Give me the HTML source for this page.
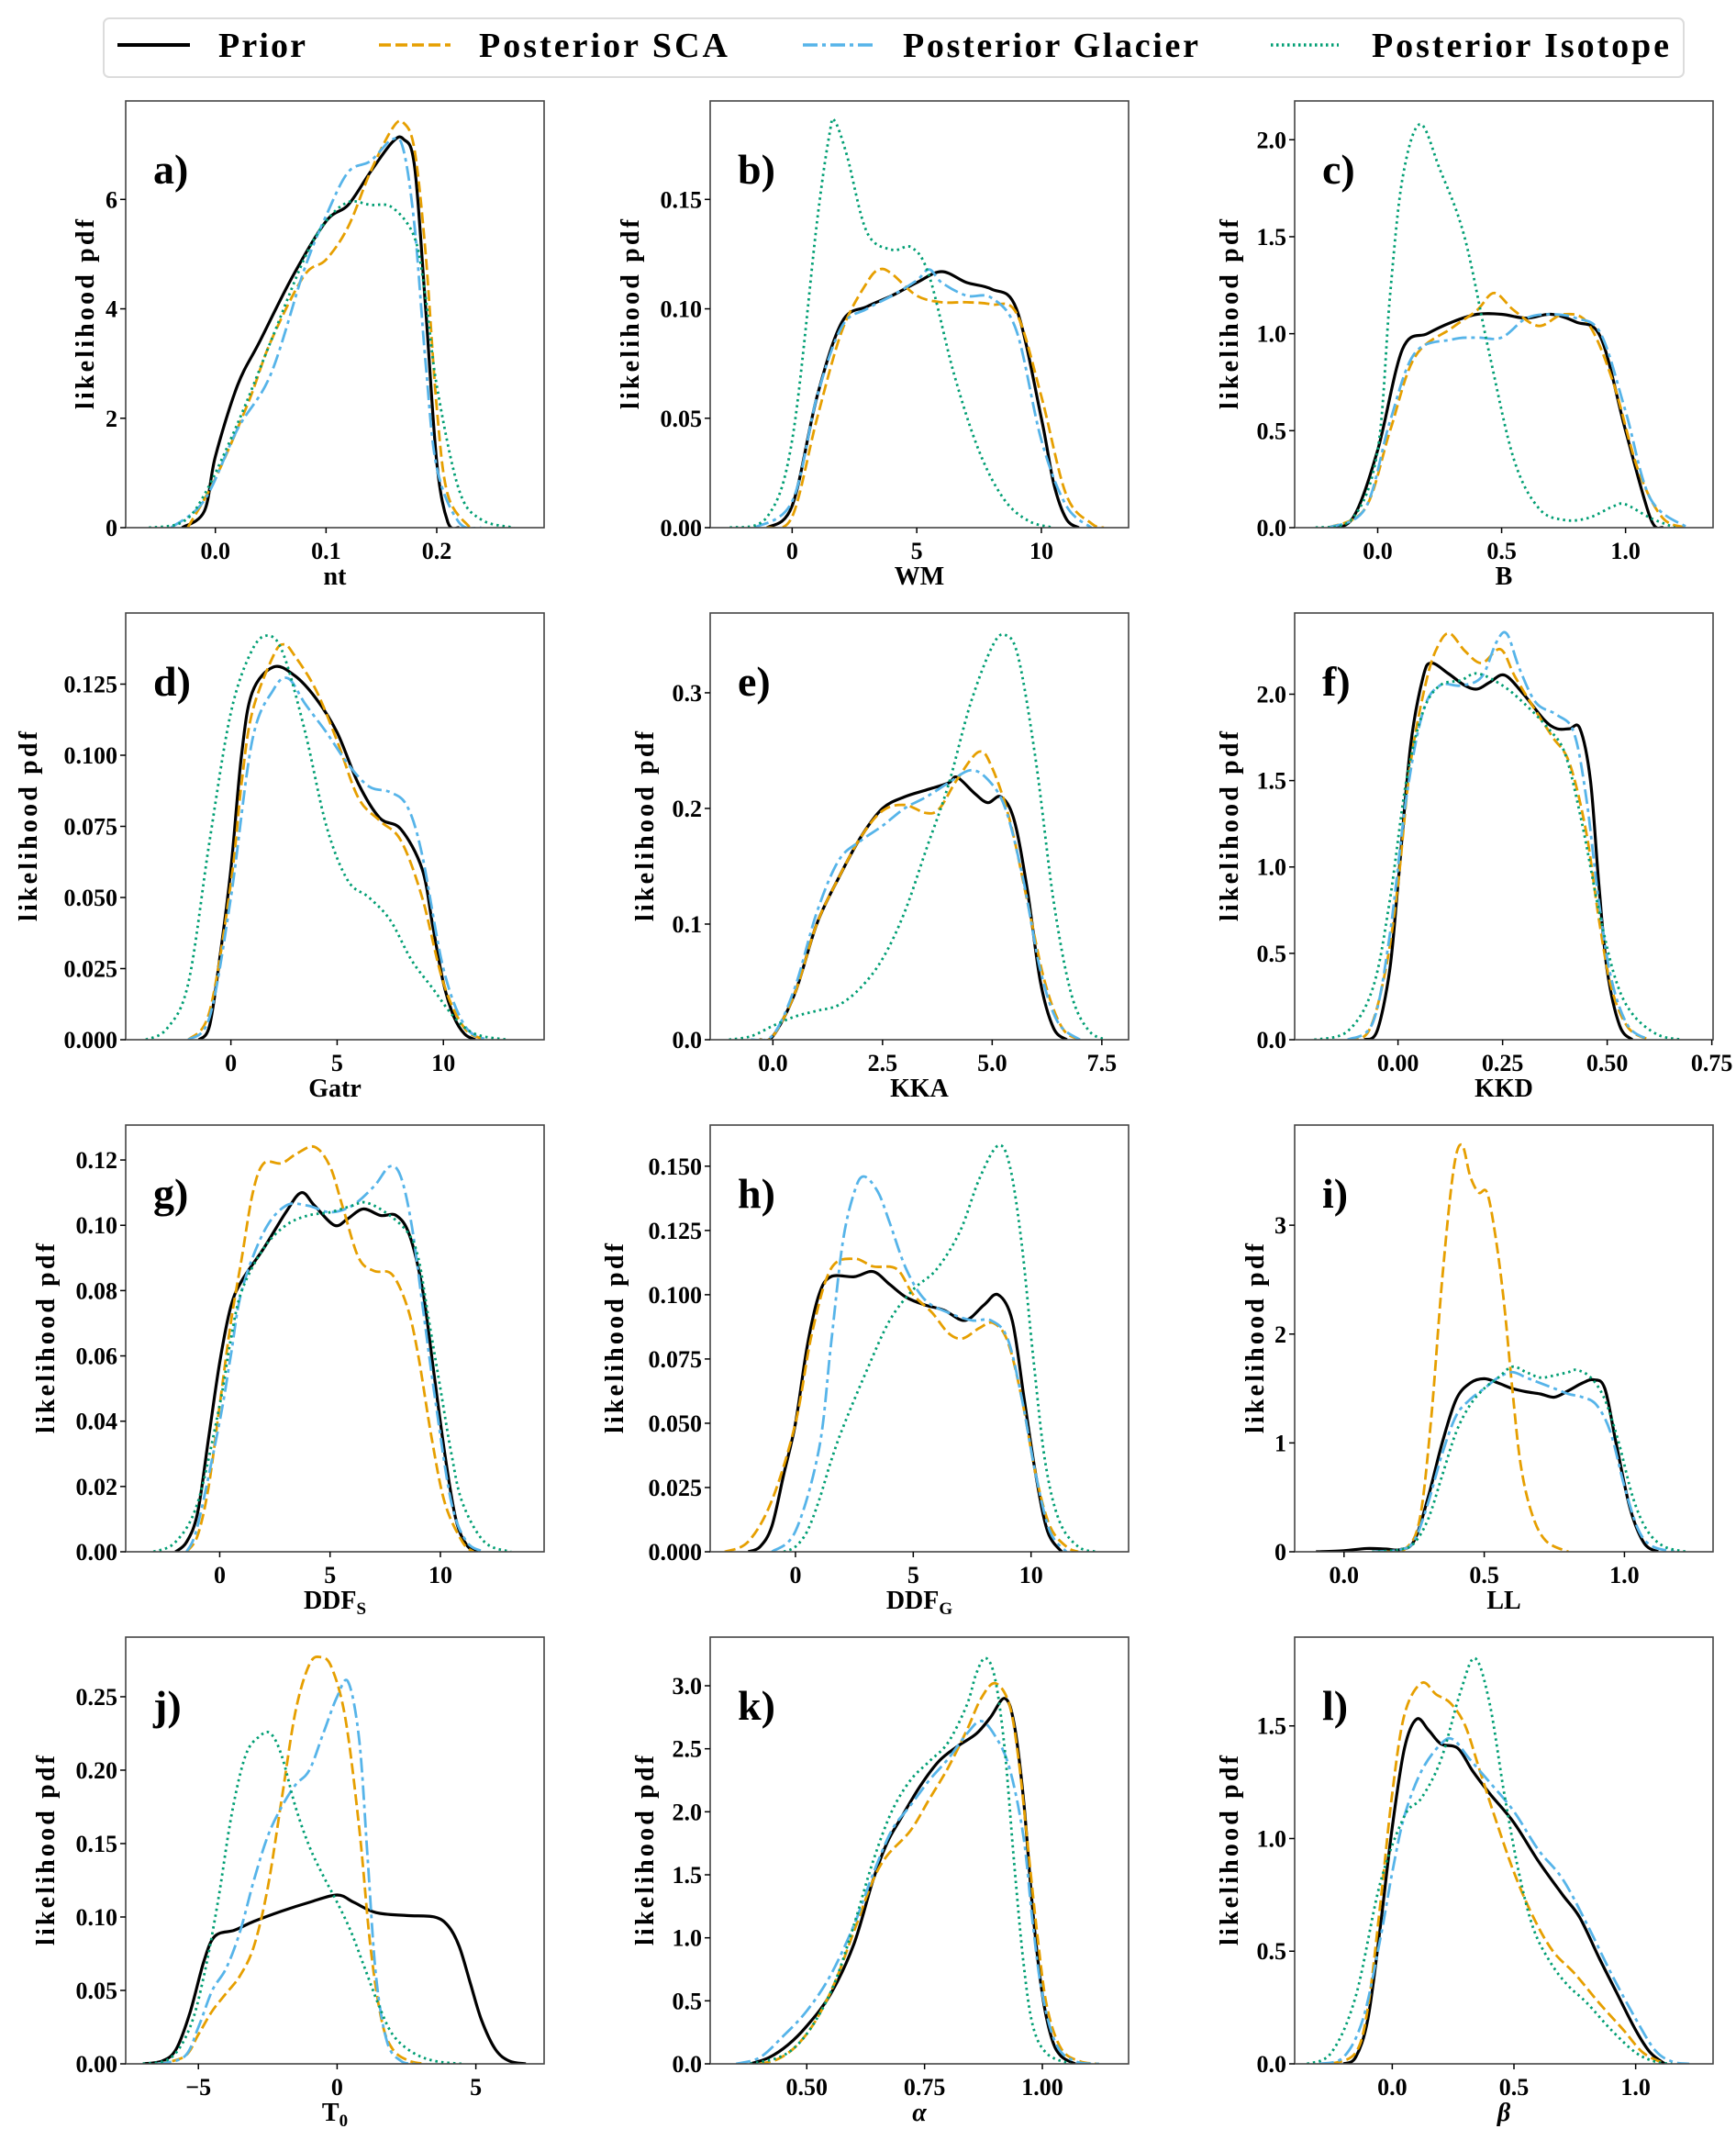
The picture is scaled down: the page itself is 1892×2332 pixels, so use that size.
<!DOCTYPE html>
<html><head><meta charset="utf-8">
<style>
html,body{margin:0;padding:0;background:#fff;}
svg{display:block;}
text{font-family:"Liberation Serif","DejaVu Serif",serif;font-weight:bold;fill:#000;}
</style></head>
<body>
<svg id="fig" width="1892" height="2332" viewBox="0 0 1892 2332" xmlns="http://www.w3.org/2000/svg">
<rect x="0" y="0" width="1892" height="2332" fill="#fff"/>
<g id="legend">
  <rect x="113" y="20" width="1722" height="64" rx="6" fill="#fff" stroke="#dcdcdc" stroke-width="2"/>
  <g>
    <line x1="128" y1="49" x2="207" y2="49" stroke="#000" stroke-width="4"/>
    <text x="238" y="62" font-size="38" textLength="95">Prior</text>
  </g>
  <g>
    <line x1="413" y1="49" x2="491" y2="49" stroke="#E69F00" stroke-width="3.5" stroke-dasharray="13,5"/>
    <text x="522" y="62" font-size="38" textLength="271">Posterior SCA</text>
  </g>
  <g>
    <line x1="875" y1="49" x2="953" y2="49" stroke="#56B4E9" stroke-width="3.5" stroke-dasharray="16,5,4,5"/>
    <text x="984" y="62" font-size="38" textLength="322">Posterior Glacier</text>
  </g>
  <g>
    <line x1="1385" y1="49" x2="1459" y2="49" stroke="#009E73" stroke-width="3.5" stroke-dasharray="2.5,3.5"/>
    <text x="1495" y="62" font-size="38" textLength="324">Posterior Isotope</text>
  </g>
</g>
</svg>
<script>
// ---- Data (x, density) pairs ----
const priorA=[[-0.03,0],[-0.01,0.3],[0,1.3],[0.02,2.6],[0.04,3.4],[0.07,4.6],[0.1,5.6],[0.12,5.9],[0.14,6.5],[0.16,7.05],[0.17,7.1],[0.18,6.6],[0.19,4],[0.2,1.2],[0.21,0.1],[0.22,0]];
const scaA=[[-0.025,0],[0,0.9],[0.03,2.3],[0.05,3.4],[0.08,4.6],[0.1,4.9],[0.12,5.5],[0.14,6.5],[0.16,7.3],[0.17,7.4],[0.18,6.9],[0.19,5],[0.2,2.2],[0.21,0.6],[0.23,0]];
const glacierA=[[-0.04,0],[-0.01,0.5],[0.02,1.8],[0.05,2.8],[0.08,4.7],[0.1,5.7],[0.12,6.5],[0.14,6.7],[0.16,7.1],[0.17,6.9],[0.18,5.5],[0.19,3],[0.2,1.1],[0.22,0.1],[0.24,0]];
const isotopeA=[[-0.06,0],[-0.03,0.1],[-0.01,0.6],[0.02,1.9],[0.05,3.4],[0.08,4.9],[0.1,5.6],[0.12,5.95],[0.14,5.9],[0.16,5.85],[0.18,5.3],[0.19,4.2],[0.2,2.6],[0.22,0.7],[0.24,0.15],[0.27,0]];

const priorB=[[-1,0],[0,0.01],[1,0.06],[2,0.094],[3,0.101],[4,0.106],[5,0.112],[6,0.117],[7,0.112],[8,0.109],[9,0.1],[10,0.05],[10.5,0.02],[11,0.004],[11.5,0]];
const scaB=[[-1,0],[0,0.005],[1,0.05],[2,0.09],[3,0.112],[3.5,0.118],[4,0.116],[5,0.106],[6,0.103],[7,0.103],[8,0.102],[9,0.098],[10,0.06],[11,0.015],[12,0.002],[12.5,0]];
const glacierB=[[-1.5,0],[0,0.012],[1,0.06],[2,0.092],[3,0.1],[4,0.106],[5,0.113],[5.5,0.118],[6,0.112],[7,0.106],[8,0.105],[9,0.09],[10,0.04],[11,0.01],[12,0]];
const isotopeB=[[-2.5,0],[-1,0.005],[0,0.04],[1,0.14],[1.5,0.18],[1.7,0.186],[2.2,0.17],[3,0.135],[4,0.127],[4.8,0.128],[5.5,0.115],[6.5,0.07],[7.5,0.035],[8.5,0.013],[9.5,0.003],[10.5,0]];

const priorC=[[-0.2,0],[-0.1,0.05],[0,0.4],[0.1,0.92],[0.2,1.0],[0.3,1.06],[0.4,1.1],[0.5,1.1],[0.6,1.08],[0.7,1.1],[0.8,1.06],[0.9,0.98],[1.0,0.5],[1.1,0.05],[1.15,0]];
const scaC=[[-0.2,0],[-0.05,0.1],[0.05,0.5],[0.15,0.88],[0.3,1.03],[0.4,1.12],[0.47,1.21],[0.55,1.12],[0.65,1.04],[0.75,1.1],[0.85,1.05],[0.95,0.75],[1.05,0.3],[1.15,0.05],[1.25,0]];
const glacierC=[[-0.2,0],[-0.05,0.1],[0.05,0.55],[0.15,0.9],[0.3,0.97],[0.4,0.98],[0.5,0.98],[0.6,1.08],[0.7,1.1],[0.8,1.08],[0.9,1.0],[1.0,0.6],[1.1,0.15],[1.25,0]];
const isotopeC=[[-0.25,0],[-0.1,0.05],[0,0.4],[0.05,1.2],[0.1,1.8],[0.17,2.08],[0.25,1.85],[0.35,1.5],[0.45,0.9],[0.55,0.35],[0.65,0.1],[0.75,0.04],[0.85,0.05],[0.95,0.11],[1.0,0.12],[1.1,0.05],[1.2,0]];

const priorD=[[-1.5,0],[-1,0.005],[-0.5,0.03],[0,0.06],[0.5,0.1],[1,0.122],[2,0.131],[3,0.128],[4,0.12],[5,0.108],[6,0.09],[7,0.078],[8,0.074],[9,0.06],[9.5,0.04],[10,0.02],[10.5,0.008],[11,0.002],[11.5,0]];
const scaD=[[-2,0],[-1,0.01],[0,0.055],[0.5,0.09],[1,0.115],[2,0.135],[2.5,0.139],[3,0.135],[4,0.123],[5,0.105],[6,0.085],[7,0.077],[8,0.07],[9,0.05],[10,0.02],[11,0.004],[12,0]];
const glacierD=[[-2,0],[-1,0.008],[0,0.05],[1,0.105],[2,0.123],[2.7,0.127],[3.5,0.118],[4.5,0.108],[5.5,0.097],[6.5,0.089],[7.5,0.087],[8.3,0.082],[9,0.065],[10,0.025],[11,0.005],[12,0]];
const isotopeD=[[-4,0],[-3,0.004],[-2,0.02],[-1,0.07],[0,0.115],[1,0.137],[1.8,0.142],[2.5,0.135],[3.5,0.108],[4.5,0.075],[5.5,0.056],[6.5,0.05],[7.5,0.042],[8.5,0.028],[9.5,0.018],[10.5,0.008],[11.5,0.002],[13,0]];

const priorE=[[-0.3,0],[0,0.003],[0.5,0.04],[1,0.1],[1.5,0.14],[2,0.175],[2.5,0.2],[3,0.21],[3.5,0.216],[4,0.222],[4.2,0.227],[4.6,0.213],[4.9,0.205],[5.2,0.21],[5.5,0.19],[5.8,0.13],[6.1,0.05],[6.4,0.01],[6.7,0]];
const scaE=[[-0.3,0],[0,0.003],[0.5,0.04],[1,0.1],[1.5,0.14],[2,0.175],[2.5,0.198],[3,0.203],[3.5,0.196],[3.8,0.2],[4.2,0.225],[4.7,0.249],[5,0.235],[5.4,0.19],[5.8,0.12],[6.2,0.05],[6.6,0.01],[7,0]];
const glacierE=[[-0.5,0],[0,0.004],[0.5,0.045],[1,0.11],[1.5,0.155],[2,0.172],[2.5,0.185],[3,0.2],[3.5,0.21],[4,0.222],[4.5,0.233],[4.9,0.225],[5.3,0.2],[5.7,0.14],[6.1,0.06],[6.5,0.015],[7,0]];
const isotopeE=[[-1,0],[-0.5,0.003],[0,0.012],[0.5,0.02],[1,0.025],[1.5,0.03],[2,0.045],[2.5,0.07],[3,0.11],[3.5,0.165],[4,0.22],[4.5,0.29],[5,0.34],[5.3,0.35],[5.6,0.33],[6,0.24],[6.4,0.12],[6.8,0.04],[7.2,0.008],[7.6,0]];

const priorF=[[-0.08,0],[-0.05,0.05],[-0.02,0.4],[0,0.9],[0.03,1.7],[0.06,2.1],[0.08,2.18],[0.12,2.12],[0.16,2.05],[0.19,2.03],[0.22,2.07],[0.255,2.11],[0.3,2.0],[0.35,1.85],[0.38,1.8],[0.41,1.8],[0.435,1.8],[0.46,1.5],[0.48,0.9],[0.5,0.4],[0.53,0.08],[0.56,0]];
const scaF=[[-0.12,0],[-0.07,0.05],[-0.03,0.4],[0,0.9],[0.03,1.6],[0.07,2.1],[0.1,2.3],[0.125,2.35],[0.16,2.25],[0.2,2.18],[0.245,2.26],[0.28,2.1],[0.33,1.9],[0.37,1.75],[0.41,1.6],[0.45,1.2],[0.48,0.7],[0.51,0.3],[0.55,0.07],[0.6,0]];
const glacierF=[[-0.12,0],[-0.06,0.1],[-0.02,0.6],[0.02,1.4],[0.06,1.9],[0.1,2.05],[0.15,2.05],[0.2,2.1],[0.235,2.3],[0.26,2.35],[0.29,2.15],[0.33,1.95],[0.38,1.88],[0.42,1.78],[0.45,1.4],[0.48,0.8],[0.51,0.35],[0.55,0.08],[0.6,0]];
const isotopeF=[[-0.2,0],[-0.12,0.05],[-0.06,0.3],[-0.02,0.8],[0.02,1.5],[0.06,1.9],[0.1,2.05],[0.15,2.08],[0.19,2.12],[0.25,2.05],[0.3,1.95],[0.36,1.8],[0.4,1.65],[0.44,1.25],[0.48,0.75],[0.52,0.35],[0.56,0.15],[0.62,0.03],[0.68,0]];

const priorG=[[-2,0],[-1.5,0.003],[-1,0.012],[-0.5,0.035],[0,0.058],[0.5,0.075],[1,0.083],[2,0.093],[3,0.104],[3.7,0.11],[4.3,0.106],[5.2,0.1],[5.8,0.102],[6.5,0.105],[7.3,0.103],[8,0.103],[8.6,0.097],[9.2,0.08],[9.7,0.055],[10.2,0.03],[10.7,0.01],[11.2,0.002],[11.7,0]];
const scaG=[[-1.5,0],[-1,0.005],[-0.5,0.02],[0,0.045],[0.5,0.07],[1,0.09],[1.5,0.11],[2,0.119],[2.8,0.119],[3.5,0.122],[4.3,0.124],[5,0.118],[5.6,0.105],[6.3,0.09],[7,0.086],[7.8,0.085],[8.5,0.075],[9,0.06],[9.6,0.035],[10.2,0.015],[11,0.003],[11.5,0]];
const glacierG=[[-1.5,0],[-1,0.008],[0,0.04],[0.5,0.06],[1,0.08],[2,0.098],[3,0.106],[4,0.106],[5,0.104],[6,0.106],[7,0.112],[7.7,0.118],[8.2,0.115],[8.7,0.1],[9.2,0.075],[9.8,0.045],[10.5,0.015],[11.2,0.003],[12,0]];
const isotopeG=[[-3,0],[-2,0.003],[-1,0.015],[0,0.045],[0.5,0.065],[1,0.08],[2,0.093],[3,0.1],[4,0.103],[5,0.104],[6,0.106],[6.6,0.107],[7.5,0.104],[8.5,0.098],[9,0.09],[9.5,0.07],[10,0.05],[10.5,0.03],[11,0.015],[12,0.003],[13.2,0]];

const priorH=[[-2,0],[-1.5,0.002],[-1,0.01],[-0.5,0.03],[0,0.05],[0.5,0.08],[1,0.1],[1.5,0.107],[2.5,0.107],[3.3,0.109],[4,0.104],[4.7,0.099],[5.5,0.096],[6.3,0.094],[7.2,0.09],[8,0.096],[8.6,0.1],[9.2,0.09],[9.7,0.06],[10.2,0.03],[10.7,0.008],[11.3,0]];
const scaH=[[-3,0],[-2,0.004],[-1,0.02],[0,0.05],[0.7,0.085],[1.5,0.11],[2.5,0.114],[3.3,0.111],[4.3,0.11],[5,0.1],[5.8,0.093],[6.5,0.085],[7.1,0.083],[7.8,0.087],[8.4,0.089],[9,0.082],[9.6,0.06],[10.2,0.03],[10.8,0.01],[11.5,0.002],[12,0]];
const glacierH=[[-1,0],[0,0.008],[1,0.04],[1.5,0.08],[2,0.12],[2.5,0.14],[2.9,0.146],[3.5,0.14],[4,0.128],[4.7,0.11],[5.5,0.098],[6.5,0.093],[7.5,0.09],[8.3,0.09],[9,0.083],[9.6,0.06],[10.2,0.03],[10.8,0.008],[11.5,0]];
const isotopeH=[[-0.5,0],[0,0.002],[0.5,0.008],[1,0.02],[1.5,0.035],[2,0.048],[3,0.07],[4,0.09],[5,0.102],[6,0.11],[7,0.125],[7.8,0.145],[8.6,0.158],[9.1,0.15],[9.6,0.12],[10.1,0.075],[10.6,0.035],[11.2,0.012],[12,0.002],[12.8,0]];

const priorI=[[-0.1,0],[0,0.01],[0.08,0.03],[0.15,0.025],[0.2,0.02],[0.25,0.1],[0.3,0.5],[0.35,1.0],[0.4,1.4],[0.45,1.55],[0.5,1.59],[0.55,1.55],[0.6,1.5],[0.65,1.47],[0.7,1.45],[0.75,1.42],[0.8,1.48],[0.85,1.55],[0.89,1.58],[0.93,1.5],[0.97,1.0],[1.02,0.4],[1.07,0.08],[1.12,0]];
const scaI=[[0.15,0],[0.22,0.03],[0.27,0.3],[0.31,1.2],[0.35,2.5],[0.39,3.5],[0.42,3.74],[0.45,3.45],[0.48,3.3],[0.51,3.3],[0.54,2.9],[0.57,2.3],[0.6,1.5],[0.63,0.8],[0.67,0.35],[0.72,0.1],[0.8,0]];
const glacierI=[[0.1,0],[0.2,0.02],[0.25,0.1],[0.3,0.45],[0.35,0.9],[0.4,1.25],[0.45,1.4],[0.5,1.5],[0.55,1.6],[0.6,1.65],[0.65,1.6],[0.7,1.55],[0.75,1.5],[0.8,1.45],[0.85,1.42],[0.9,1.35],[0.95,1.1],[1.0,0.6],[1.05,0.2],[1.1,0.05],[1.18,0]];
const isotopeI=[[0.1,0],[0.2,0.02],[0.25,0.08],[0.3,0.3],[0.35,0.7],[0.4,1.1],[0.45,1.35],[0.5,1.5],[0.55,1.6],[0.6,1.7],[0.65,1.65],[0.7,1.6],[0.75,1.62],[0.8,1.65],[0.83,1.67],[0.88,1.6],[0.93,1.4],[0.98,1.0],[1.03,0.5],[1.08,0.2],[1.14,0.05],[1.22,0]];

const priorJ=[[-7,0],[-6.3,0.002],[-5.8,0.01],[-5.3,0.035],[-4.8,0.07],[-4.4,0.087],[-3.7,0.091],[-3,0.097],[-2,0.104],[-1,0.11],[0,0.115],[0.6,0.11],[1.4,0.103],[2.5,0.101],[3.5,0.1],[4,0.094],[4.4,0.08],[4.8,0.055],[5.2,0.03],[5.7,0.01],[6.2,0.002],[6.8,0]];
const scaJ=[[-6.5,0],[-5.5,0.005],[-5,0.02],[-4.5,0.036],[-4,0.048],[-3.5,0.06],[-3,0.08],[-2.5,0.12],[-2,0.18],[-1.5,0.24],[-1,0.272],[-0.6,0.277],[-0.2,0.27],[0.3,0.235],[0.8,0.16],[1.2,0.08],[1.6,0.03],[2,0.01],[2.6,0.002],[3.2,0]];
const glacierJ=[[-6.5,0],[-5.5,0.005],[-5,0.025],[-4.5,0.05],[-4,0.065],[-3.5,0.09],[-3,0.125],[-2.5,0.155],[-2,0.175],[-1.5,0.19],[-1,0.2],[-0.5,0.225],[0,0.25],[0.4,0.26],[0.8,0.22],[1.1,0.14],[1.4,0.06],[1.8,0.015],[2.3,0.002],[2.8,0]];
const isotopeJ=[[-7,0],[-6,0.004],[-5.3,0.025],[-4.8,0.06],[-4.3,0.11],[-3.8,0.17],[-3.3,0.21],[-2.8,0.223],[-2.4,0.225],[-2,0.21],[-1.5,0.175],[-1,0.148],[-0.5,0.128],[0,0.11],[0.5,0.09],[1,0.065],[1.5,0.04],[2,0.02],[2.7,0.008],[3.5,0.002],[4.5,0]];

const priorK=[[0.38,0],[0.42,0.05],[0.46,0.15],[0.5,0.3],[0.55,0.55],[0.6,0.95],[0.64,1.45],[0.67,1.75],[0.7,1.95],[0.74,2.2],[0.78,2.4],[0.82,2.52],[0.86,2.62],[0.89,2.75],[0.92,2.9],[0.94,2.7],[0.96,2.1],[0.98,1.2],[1.0,0.55],[1.02,0.2],[1.04,0.06],[1.07,0]];
const scaK=[[0.4,0],[0.44,0.04],[0.48,0.15],[0.52,0.35],[0.56,0.65],[0.6,1.05],[0.64,1.45],[0.67,1.65],[0.72,1.85],[0.76,2.1],[0.8,2.35],[0.84,2.65],[0.87,2.9],[0.9,3.02],[0.93,2.85],[0.95,2.4],[0.97,1.7],[0.99,1.0],[1.01,0.45],[1.04,0.12],[1.08,0.02],[1.12,0]];
const glacierK=[[0.35,0],[0.4,0.05],[0.45,0.22],[0.5,0.42],[0.55,0.7],[0.6,1.1],[0.64,1.5],[0.68,1.85],[0.72,2.05],[0.76,2.25],[0.8,2.42],[0.84,2.62],[0.87,2.72],[0.9,2.6],[0.93,2.35],[0.96,1.8],[0.98,1.1],[1.0,0.55],[1.03,0.15],[1.07,0.02],[1.12,0]];
const isotopeK=[[0.38,0],[0.44,0.05],[0.48,0.15],[0.52,0.35],[0.56,0.65],[0.6,1.1],[0.64,1.6],[0.68,2.0],[0.72,2.25],[0.76,2.4],[0.8,2.55],[0.84,2.85],[0.86,3.1],[0.88,3.22],[0.9,3.05],[0.92,2.5],[0.94,1.6],[0.96,0.8],[0.98,0.3],[1.01,0.08],[1.06,0]];

const priorL=[[-0.2,0],[-0.15,0.03],[-0.1,0.2],[-0.05,0.6],[0,1.05],[0.05,1.4],[0.1,1.53],[0.15,1.48],[0.2,1.42],[0.27,1.4],[0.33,1.3],[0.4,1.2],[0.5,1.07],[0.6,0.9],[0.7,0.75],[0.77,0.65],[0.85,0.47],[0.92,0.32],[1.0,0.15],[1.06,0.05],[1.12,0]];
const scaL=[[-0.25,0],[-0.15,0.05],[-0.1,0.25],[-0.05,0.7],[0,1.2],[0.05,1.55],[0.12,1.69],[0.18,1.64],[0.24,1.6],[0.3,1.5],[0.36,1.3],[0.42,1.1],[0.5,0.85],[0.58,0.65],[0.66,0.5],[0.75,0.4],[0.85,0.27],[0.95,0.15],[1.03,0.05],[1.12,0]];
const glacierL=[[-0.3,0],[-0.2,0.03],[-0.12,0.2],[-0.05,0.55],[0,0.85],[0.05,1.1],[0.12,1.3],[0.2,1.42],[0.25,1.44],[0.32,1.35],[0.4,1.25],[0.5,1.12],[0.6,0.95],[0.7,0.82],[0.8,0.62],[0.9,0.4],[1.0,0.2],[1.08,0.06],[1.15,0.01],[1.22,0]];
const isotopeL=[[-0.35,0],[-0.25,0.05],[-0.15,0.3],[-0.05,0.8],[0.05,1.1],[0.12,1.18],[0.2,1.35],[0.28,1.65],[0.34,1.8],[0.4,1.6],[0.46,1.2],[0.52,0.85],[0.58,0.6],[0.65,0.45],[0.72,0.35],[0.8,0.27],[0.9,0.15],[1.0,0.05],[1.08,0.01],[1.15,0]];

// ---- Tick values and labels ----
const xTicksA=[0,0.1,0.2]; const xTickLabelsA=["0.0","0.1","0.2"];
const yTicksA=[0,2,4,6]; const yTickLabelsA=["0","2","4","6"];
const xTicksB=[0,5,10]; const xTickLabelsB=["0","5","10"];
const yTicksB=[0,0.05,0.1,0.15]; const yTickLabelsB=["0.00","0.05","0.10","0.15"];
const xTicksC=[0,0.5,1]; const xTickLabelsC=["0.0","0.5","1.0"];
const yTicksC=[0,0.5,1,1.5,2]; const yTickLabelsC=["0.0","0.5","1.0","1.5","2.0"];
const xTicksD=[0,5,10]; const xTickLabelsD=["0","5","10"];
const yTicksD=[0,0.025,0.05,0.075,0.1,0.125]; const yTickLabelsD=["0.000","0.025","0.050","0.075","0.100","0.125"];
const xTicksE=[0,2.5,5,7.5]; const xTickLabelsE=["0.0","2.5","5.0","7.5"];
const yTicksE=[0,0.1,0.2,0.3]; const yTickLabelsE=["0.0","0.1","0.2","0.3"];
const xTicksF=[0,0.25,0.5,0.75]; const xTickLabelsF=["0.00","0.25","0.50","0.75"];
const yTicksF=[0,0.5,1,1.5,2]; const yTickLabelsF=["0.0","0.5","1.0","1.5","2.0"];
const xTicksG=[0,5,10]; const xTickLabelsG=["0","5","10"];
const yTicksG=[0,0.02,0.04,0.06,0.08,0.1,0.12]; const yTickLabelsG=["0.00","0.02","0.04","0.06","0.08","0.10","0.12"];
const xTicksH=[0,5,10]; const xTickLabelsH=["0","5","10"];
const yTicksH=[0,0.025,0.05,0.075,0.1,0.125,0.15]; const yTickLabelsH=["0.000","0.025","0.050","0.075","0.100","0.125","0.150"];
const xTicksI=[0,0.5,1]; const xTickLabelsI=["0.0","0.5","1.0"];
const yTicksI=[0,1,2,3]; const yTickLabelsI=["0","1","2","3"];
const xTicksJ=[-5,0,5]; const xTickLabelsJ=["\u22125","0","5"];
const yTicksJ=[0,0.05,0.1,0.15,0.2,0.25]; const yTickLabelsJ=["0.00","0.05","0.10","0.15","0.20","0.25"];
const xTicksK=[0.5,0.75,1]; const xTickLabelsK=["0.50","0.75","1.00"];
const yTicksK=[0,0.5,1,1.5,2,2.5,3]; const yTickLabelsK=["0.0","0.5","1.0","1.5","2.0","2.5","3.0"];
const xTicksL=[0,0.5,1]; const xTickLabelsL=["0.0","0.5","1.0"];
const yTicksL=[0,0.5,1,1.5]; const yTickLabelsL=["0.0","0.5","1.0","1.5"];

const NS="http://www.w3.org/2000/svg";
const svg=document.getElementById('fig');
const colLeft=[137,774,1411], rowTop=[110,668,1226,1784], W=456, H=465;
const styles=[
 {key:'prior',color:'#000',w:3.2,dash:''},
 {key:'sca',color:'#E69F00',w:2.8,dash:'12,5'},
 {key:'glacier',color:'#56B4E9',w:2.8,dash:'16,5,4,5'},
 {key:'isotope',color:'#009E73',w:2.8,dash:'2.5,4'}
];
const panels=[
 {id:'a',r:0,c:0,xr:[-0.081,0.297],ymax:7.8,xt:xTicksA,xl:xTickLabelsA,yt:yTicksA,yl:yTickLabelsA,lab:'nt',yo:45,s:[priorA,scaA,glacierA,isotopeA]},
 {id:'b',r:0,c:1,xr:[-3.29,13.5],ymax:0.195,xt:xTicksB,xl:xTickLabelsB,yt:yTicksB,yl:yTickLabelsB,lab:'WM',yo:88,s:[priorB,scaB,glacierB,isotopeB]},
 {id:'c',r:0,c:2,xr:[-0.335,1.353],ymax:2.2,xt:xTicksC,xl:xTickLabelsC,yt:yTicksC,yl:yTickLabelsC,lab:'B',yo:72,s:[priorC,scaC,glacierC,isotopeC]},
 {id:'d',r:1,c:0,xr:[-4.95,14.74],ymax:0.15,xt:xTicksD,xl:xTickLabelsD,yt:yTicksD,yl:yTickLabelsD,lab:'Gatr',yo:107,s:[priorD,scaD,glacierD,isotopeD]},
 {id:'e',r:1,c:1,xr:[-1.43,8.11],ymax:0.369,xt:xTicksE,xl:xTickLabelsE,yt:yTicksE,yl:yTickLabelsE,lab:'KKA',yo:72,s:[priorE,scaE,glacierE,isotopeE]},
 {id:'f',r:1,c:2,xr:[-0.247,0.753],ymax:2.47,xt:xTicksF,xl:xTickLabelsF,yt:yTicksF,yl:yTickLabelsF,lab:'KKD',yo:72,s:[priorF,scaF,glacierF,isotopeF]},
 {id:'g',r:2,c:0,xr:[-4.26,14.7],ymax:0.1307,xt:xTicksG,xl:xTickLabelsG,yt:yTicksG,yl:yTickLabelsG,lab:['DDF','S'],yo:88,s:[priorG,scaG,glacierG,isotopeG]},
 {id:'h',r:2,c:1,xr:[-3.62,14.14],ymax:0.166,xt:xTicksH,xl:xTickLabelsH,yt:yTicksH,yl:yTickLabelsH,lab:['DDF','G'],yo:105,s:[priorH,scaH,glacierH,isotopeH]},
 {id:'i',r:2,c:2,xr:[-0.176,1.316],ymax:3.92,xt:xTicksI,xl:xTickLabelsI,yt:yTicksI,yl:yTickLabelsI,lab:'LL',yo:44,s:[priorI,scaI,glacierI,isotopeI]},
 {id:'j',r:3,c:0,xr:[-7.62,7.46],ymax:0.2906,xt:xTicksJ,xl:xTickLabelsJ,yt:yTicksJ,yl:yTickLabelsJ,lab:['T','0'],yo:88,s:[priorJ,scaJ,glacierJ,isotopeJ]},
 {id:'k',r:3,c:1,xr:[0.295,1.183],ymax:3.386,xt:xTicksK,xl:xTickLabelsK,yt:yTicksK,yl:yTickLabelsK,lab:'\u03b1',it:true,yo:72,s:[priorK,scaK,glacierK,isotopeK]},
 {id:'l',r:3,c:2,xr:[-0.401,1.318],ymax:1.894,xt:xTicksL,xl:xTickLabelsL,yt:yTicksL,yl:yTickLabelsL,lab:'\u03b2',it:true,yo:72,s:[priorL,scaL,glacierL,isotopeL]}
];
function mk(tag,attrs,parent){const e=document.createElementNS(NS,tag);for(const k in attrs)e.setAttribute(k,attrs[k]);(parent||svg).appendChild(e);return e;}
function smoothPath(pts){
  let d='M'+pts[0][0].toFixed(2)+','+pts[0][1].toFixed(2);
  for(let i=0;i<pts.length-1;i++){
    const p0=pts[Math.max(0,i-1)],p1=pts[i],p2=pts[i+1],p3=pts[Math.min(pts.length-1,i+2)];
    const c1=[p1[0]+(p2[0]-p0[0])/6,p1[1]+(p2[1]-p0[1])/6];
    const c2=[p2[0]-(p3[0]-p1[0])/6,p2[1]-(p3[1]-p1[1])/6];
    d+=' C'+c1[0].toFixed(2)+','+c1[1].toFixed(2)+' '+c2[0].toFixed(2)+','+c2[1].toFixed(2)+' '+p2[0].toFixed(2)+','+p2[1].toFixed(2);
  }
  return d;
}
const defs=mk('defs',{});
panels.forEach(p=>{
  const L=colLeft[p.c],T=rowTop[p.r],B=T+H,R=L+W;
  const sx=v=>L+(v-p.xr[0])/(p.xr[1]-p.xr[0])*W;
  const sy=v=>B-v/p.ymax*H;
  const g=mk('g',{});
  
  
  const cp=mk('clipPath',{id:'clip'+p.id},defs);
  mk('rect',{x:L,y:T,width:W,height:H},cp);
  // series
  const sg=mk('g',{'clip-path':'url(#clip'+p.id+')'},g);
  p.s.forEach((arr,k)=>{
    const st=styles[k];
    const pts=arr.map(q=>[sx(q[0]),sy(q[1])]);
    const path=mk('path',{d:smoothPath(pts),fill:'none',stroke:st.color,'stroke-width':st.w,'stroke-linejoin':'round'},sg);
    if(st.dash)path.setAttribute('stroke-dasharray',st.dash);
    
    
  });
  // frame
  const fr=mk('rect',{x:L,y:T,width:W,height:H,fill:'none',stroke:'#444','stroke-width':1.6},g);
  
  
  // x ticks
  p.xt.forEach((v,i)=>{
    const x=sx(v);
    mk('line',{x1:x,y1:B,x2:x,y2:B+6,stroke:'#000','stroke-width':1.5},g);
    const t=mk('text',{x:x,y:B+34,'font-size':26,'text-anchor':'middle'},g);
    t.textContent=p.xl[i];
    
    
  });
  // y ticks
  p.yt.forEach((v,i)=>{
    const y=sy(v);
    mk('line',{x1:L-6,y1:y,x2:L,y2:y,stroke:'#000','stroke-width':1.5},g);
    const t=mk('text',{x:L-9,y:y+9,'font-size':26,'text-anchor':'end'},g);
    t.textContent=p.yl[i];
    
    
  });
  // x label
  const xl=mk('text',{x:(L+R)/2,y:B+62,'font-size':28,'text-anchor':'middle'},g);
  if(Array.isArray(p.lab)){
    xl.appendChild(document.createTextNode(p.lab[0]));
    const ts=mk('tspan',{'font-size':19,dy:6},xl);
    ts.textContent=p.lab[1];
  } else { xl.textContent=p.lab; if(p.it)xl.setAttribute('font-style','italic'); }
  
  
  // y label
  const cx=L-p.yo, cy=(T+B)/2;
  const yl=mk('text',{x:cx,y:cy,'font-size':28,'text-anchor':'middle',transform:'rotate(-90 '+cx+' '+cy+') translate(0,10)',textLength:207,lengthAdjust:'spacing'},g);
  yl.textContent='likelihood pdf';
  
  
  // panel letter
  const pl=mk('text',{x:L+30,y:T+90,'font-size':46},g);
  pl.textContent=p.id+')';
  
  
});
</script>
</body></html>
